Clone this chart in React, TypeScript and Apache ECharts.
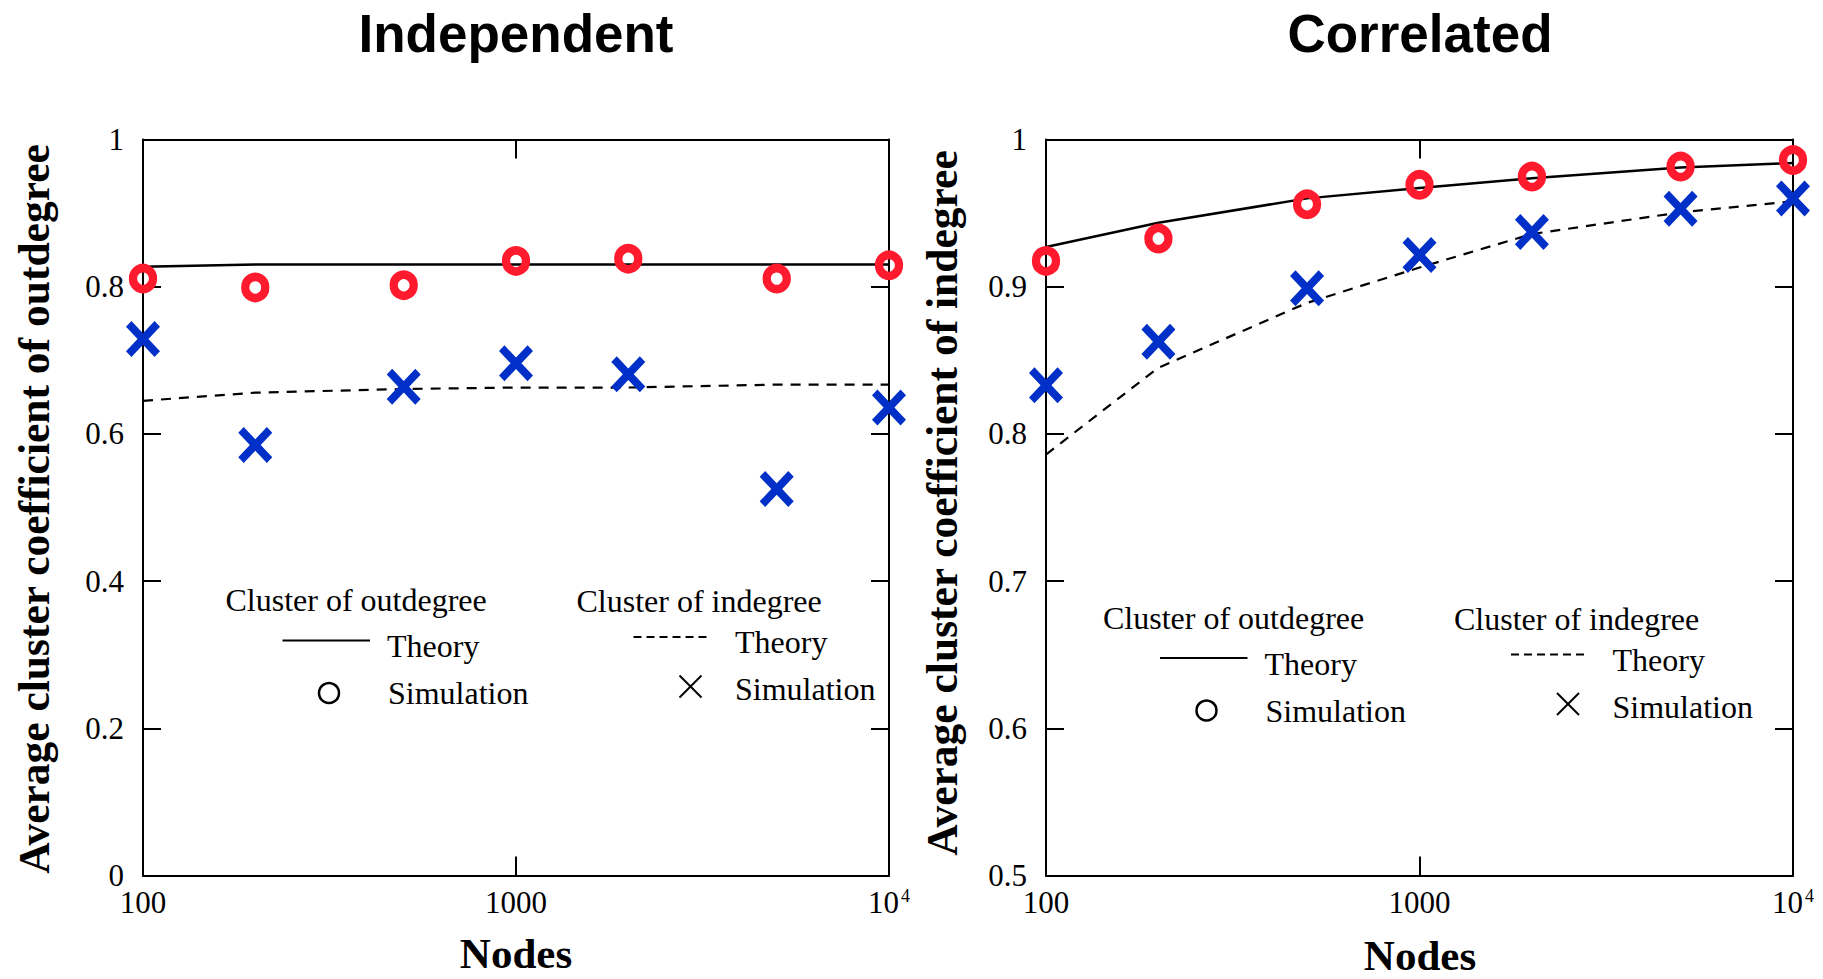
import React, { useEffect, useRef } from "react";
import * as echarts from "echarts";

// Network sizes (number of nodes) shared by every series
const nodes = [100, 200, 500, 1000, 2000, 5000, 10000];

// Independent model
const independentOutTheory = [0.827, 0.83, 0.83, 0.83, 0.83, 0.83, 0.83];
const independentOutSimulation = [0.811, 0.799, 0.802, 0.835, 0.838, 0.811, 0.829];
const independentInTheory = [0.645, 0.656, 0.661, 0.663, 0.663, 0.667, 0.667];
const independentInSimulation = [0.729, 0.585, 0.664, 0.696, 0.681, 0.525, 0.636];

// Correlated model
const correlatedOutTheory = [0.927, 0.9435, 0.96, 0.967, 0.9737, 0.981, 0.984];
const correlatedOutSimulation = [0.9175, 0.9327, 0.956, 0.9692, 0.9748, 0.9816, 0.986];
const correlatedInTheory = [0.786, 0.845, 0.889, 0.913, 0.9358, 0.9505, 0.958];
const correlatedInSimulation = [0.833, 0.8626, 0.899, 0.9216, 0.9372, 0.953, 0.96];

// Texts
const panelTitles = ["Independent", "Correlated"];
const xAxisName = "Nodes";
const yAxisNames = [
  "Average cluster coefficient of outdegree",
  "Average cluster coefficient of indegree",
];
const legendHeaders = ["Cluster of outdegree", "Cluster of indegree"];
const theoryLabel = "Theory";
const simulationLabel = "Simulation";

// Value axis ranges per panel
const yRanges = [
  { min: 0, max: 1, interval: 0.2 },
  { min: 0.5, max: 1, interval: 0.1 },
];

const RED = "#ff1a2d";
const BLUE = "#0030c8";
const SERIF = "'Liberation Serif', 'Times New Roman', serif";
const SANS = "'Liberation Sans', Arial, sans-serif";

// Bold "X" marker, filled outline in a 100x100 box
const CROSS =
  "path://M0,16 L16,0 L50,34 L84,0 L100,16 L66,50 L100,84 L84,100 L50,66 L16,100 L0,84 L34,50 Z";

const pairs = (ys: number[]) => nodes.map((x, i) => [x, ys[i]]);

const grids = [
  { left: 143, top: 139.5, width: 746, height: 736 },
  { left: 1046, top: 139.5, width: 747, height: 736 },
];

function axisCommon() {
  return {
    axisLine: { show: true, onZero: false, lineStyle: { color: "#000", width: 2 } },
    axisTick: { show: true, inside: true, length: 19, lineStyle: { color: "#000", width: 2 } },
    splitLine: { show: false },
  };
}

function xAxes(gridIndex: number) {
  const base = {
    type: "log" as const,
    logBase: 10,
    min: 100,
    max: 10000,
    gridIndex,
    ...axisCommon(),
  };
  return [
    {
      ...base,
      position: "bottom",
      axisLabel: {
        show: true,
        margin: 11,
        color: "#000",
        fontFamily: SERIF,
        fontSize: 31,
        formatter: (v: number) =>
          v >= 9999 ? "{b|10}{s|4}" : "{b|" + String(Math.round(v)) + "}",
        rich: {
          b: { fontFamily: SERIF, fontSize: 31, color: "#000" },
          s: { fontFamily: SERIF, fontSize: 18, color: "#000", verticalAlign: "top", padding: [0, 0, 0, 2] },
        },
      },
    },
    { ...base, position: "top", axisLabel: { show: false } },
  ];
}

function yAxes(gridIndex: number) {
  const r = yRanges[gridIndex];
  const base = {
    type: "value" as const,
    gridIndex,
    min: r.min,
    max: r.max,
    interval: r.interval,
    ...axisCommon(),
  };
  return [
    {
      ...base,
      position: "left",
      axisTick: { show: true, inside: true, length: 18, lineStyle: { color: "#000", width: 2 } },
      axisLabel: {
        show: true,
        margin: 19,
        color: "#000",
        fontFamily: SERIF,
        fontSize: 31,
      },
    },
    {
      ...base,
      position: "right",
      axisTick: { show: true, inside: true, length: 18, lineStyle: { color: "#000", width: 2 } },
      axisLabel: { show: false },
    },
  ];
}

function panelSeries(
  gridIndex: number,
  outTheory: number[],
  outSim: number[],
  inTheory: number[],
  inSim: number[]
) {
  const xAxisIndex = gridIndex * 2;
  const yAxisIndex = gridIndex * 2;
  return [
    {
      type: "line",
      name: "Theory (outdegree)",
      xAxisIndex,
      yAxisIndex,
      data: pairs(outTheory),
      showSymbol: false,
      lineStyle: { color: "#000", width: 2.5 },
      z: 2,
    },
    {
      type: "line",
      name: "Theory (indegree)",
      xAxisIndex,
      yAxisIndex,
      data: pairs(inTheory),
      showSymbol: false,
      lineStyle: { color: "#000", width: 2.2, type: [10, 8] },
      z: 2,
    },
    {
      type: "scatter",
      name: "Simulation (outdegree)",
      xAxisIndex,
      yAxisIndex,
      data: pairs(outSim),
      symbol: "circle",
      symbolSize: [20, 21],
      itemStyle: { color: "rgba(0,0,0,0)", borderColor: RED, borderWidth: 8.5, opacity: 1 },
      z: 3,
    },
    {
      type: "scatter",
      name: "Simulation (indegree)",
      xAxisIndex,
      yAxisIndex,
      data: pairs(inSim),
      symbol: CROSS,
      symbolSize: [34, 36],
      itemStyle: { color: BLUE, opacity: 1 },
      z: 3,
    },
  ];
}

function legendBlock(dx: number, dy: number) {
  const txt = (text: string, x: number, y: number) => ({
    type: "text",
    x: x + dx,
    y: y + dy,
    style: {
      text,
      fontFamily: SERIF,
      fontSize: 32,
      fill: "#000",
      align: "left",
      verticalAlign: "middle",
    },
  });
  const cx = 690.5 + dx;
  const cy = 686.5 + dy;
  return [
    txt(legendHeaders[0], 225.5, 600),
    txt(theoryLabel, 387, 646),
    txt(simulationLabel, 388, 693),
    txt(legendHeaders[1], 576.5, 601),
    txt(theoryLabel, 735, 642),
    txt(simulationLabel, 735, 689),
    {
      type: "line",
      shape: { x1: 282.5 + dx, y1: 640.5 + dy, x2: 370 + dx, y2: 640.5 + dy },
      style: { stroke: "#000", lineWidth: 2 },
    },
    {
      type: "line",
      shape: { x1: 633.5 + dx, y1: 637 + dy, x2: 711.5 + dx, y2: 637 + dy },
      style: { stroke: "#000", lineWidth: 2, lineDash: [8, 5] },
    },
    {
      type: "circle",
      shape: { cx: 329 + dx, cy: 693 + dy, r: 10 },
      style: { fill: "none", stroke: "#000", lineWidth: 2.5 },
    },
    {
      type: "line",
      shape: { x1: cx - 11, y1: cy - 11, x2: cx + 11, y2: cy + 11 },
      style: { stroke: "#000", lineWidth: 2 },
    },
    {
      type: "line",
      shape: { x1: cx + 11, y1: cy - 11, x2: cx - 11, y2: cy + 11 },
      style: { stroke: "#000", lineWidth: 2 },
    },
  ];
}

function labelText(
  text: string,
  x: number,
  y: number,
  font: string,
  size: number,
  rotation = 0
) {
  return {
    type: "text",
    x,
    y,
    rotation,
    style: {
      text,
      fontFamily: font,
      fontSize: size,
      fontWeight: "bold",
      fill: "#000",
      align: "center",
      verticalAlign: "middle",
    },
  };
}

export default function App() {
  const ref = useRef<HTMLDivElement>(null);

  useEffect(() => {
    if (!ref.current) return;
    const chart = echarts.init(ref.current, undefined, { renderer: "svg" });
    chart.setOption({
      animation: false,
      backgroundColor: "#fff",
      grid: grids.map((g) => ({ ...g, containLabel: false })),
      xAxis: [...xAxes(0), ...xAxes(1)],
      yAxis: [...yAxes(0), ...yAxes(1)],
      series: [
        ...panelSeries(
          0,
          independentOutTheory,
          independentOutSimulation,
          independentInTheory,
          independentInSimulation
        ),
        ...panelSeries(
          1,
          correlatedOutTheory,
          correlatedOutSimulation,
          correlatedInTheory,
          correlatedInSimulation
        ),
      ],
      graphic: [
        labelText(panelTitles[0], 516, 33, SANS, 53),
        labelText(panelTitles[1], 1420, 33, SANS, 53),
        labelText(xAxisName, 516, 953, SERIF, 43),
        labelText(xAxisName, 1420, 955, SERIF, 43),
        labelText(yAxisNames[0], 34, 509, SERIF, 43.5, Math.PI / 2),
        labelText(yAxisNames[1], 942, 503, SERIF, 43.5, Math.PI / 2),
        ...legendBlock(0, 0),
        ...legendBlock(877.5, 17.5),
      ],
    });
    return () => chart.dispose();
  }, []);

  return (
    <div
      ref={ref}
      style={{ position: "fixed", left: 0, top: 0, width: "1823px", height: "979px" }}
    />
  );
}
